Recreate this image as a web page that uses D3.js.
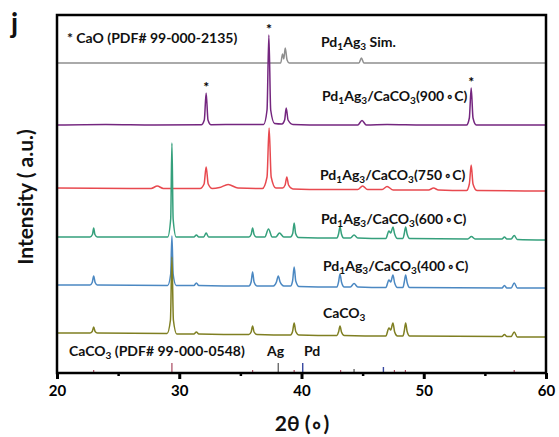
<!DOCTYPE html>
<html><head><meta charset="utf-8">
<script src="https://cdn.jsdelivr.net/npm/d3@7"></script>
<style>body{margin:0;background:#fff} text{font-family:Lato,"Open Sans",sans-serif;font-weight:700}</style>
</head><body><svg id="c" width="559" height="437"></svg>
<script>
// ---- data (2θ in degrees, intensity in a.u. relative to each pattern's baseline) ----
const seriesNames = ["Pd_1Ag_3 Sim.", "Pd_1Ag_3/CaCO_3(900∘C)", "Pd_1Ag_3/CaCO_3(750∘C)", "Pd_1Ag_3/CaCO_3(600∘C)", "Pd_1Ag_3/CaCO_3(400∘C)", "CaCO_3"];
const seriesOffsets = [310, 248, 184, 136, 87, 38];
const patternSim = [[20,0],[38.3,0],[38.45,9],[38.55,4],[38.67,15],[38.82,3],[39,0],[44.7,0],[44.9,5],[45.1,0],[60,0]];
const pattern900 = [[20,0],[24,0.5],[28,0],[31.8,0.3],[32.05,5],[32.2,32],[32.35,5],[32.6,0.3],[35,0.5],[36.9,0.5],[37.18,15],[37.33,90],[37.48,15],[37.8,1.5],[38.4,1],[38.62,5],[38.75,17],[38.9,5],[39.3,0.5],[42,0],[44.6,0],[44.95,4.5],[45.3,0],[47,0.5],[50,0],[53.5,0],[53.73,7],[53.88,37],[54.03,7],[54.3,0],[60,0]];
const pattern750 = [[20,1],[26,0.5],[27.7,0.5],[28.2,3],[28.7,0.5],[31.7,0.5],[32.03,5],[32.2,22],[32.37,5],[32.7,0.5],[33.3,1.5],[34.0,4.5],[34.8,1],[36.8,0.5],[37.18,12],[37.35,61],[37.52,12],[37.9,1],[38.45,1],[38.66,4],[38.8,12],[38.94,4],[39.3,0],[42,-0.5],[44.6,-0.5],[45.0,3],[45.4,-0.5],[46.6,-0.5],[47.0,2.5],[47.5,-1],[50.4,-1],[50.8,1],[51.2,-1],[53.5,-1.5],[53.73,5],[53.88,24],[54.03,5],[54.35,-1.5],[60,-2]];
const pattern600 = [[20,0],[22.7,0],[22.9,2.5],[23.0,9],[23.1,2.5],[23.3,0],[26,0],[29.05,0],[29.3,18],[29.4,94],[29.5,18],[29.75,0],[31.2,0],[31.4,2],[31.6,0],[32.0,0],[32.2,4],[32.4,0],[35.7,0],[35.88,2.5],[36.0,9],[36.12,2.5],[36.3,0],[37.0,0],[37.3,8],[37.6,0],[37.9,0],[38.2,4],[38.55,0],[39.1,0],[39.28,3.5],[39.4,14],[39.52,3.5],[39.75,-0.5],[42.9,-1],[43.03,3],[43.15,10],[43.27,3],[43.45,-1],[44.0,-1],[44.3,2],[44.6,-1],[46.9,-1.5],[47.15,6],[47.3,4],[47.48,10],[47.62,3],[47.85,-1.5],[48.3,-1.5],[48.4,3],[48.52,10],[48.64,3],[48.85,-1.5],[53.6,-2],[53.9,0.5],[54.2,-2],[56.4,-2],[56.6,0],[56.8,-2],[57.15,-2],[57.4,1.5],[57.65,-2.5],[60,-3]];
const pattern400 = [[20,1],[22.7,1],[22.88,3.5],[23.0,10],[23.12,3.5],[23.3,1],[29.05,0.5],[29.3,12],[29.4,50],[29.5,12],[29.75,0.5],[31.2,0.5],[31.4,3],[31.6,0.5],[35.7,0],[35.88,4],[36.0,14],[36.12,4],[36.35,0],[37.7,0],[37.95,4],[38.1,10],[38.25,4],[38.55,0],[39.1,0],[39.27,5],[39.4,19],[39.53,5],[39.8,-0.5],[42.9,-1],[43.03,4],[43.15,12],[43.27,4],[43.5,-1],[44.0,-1],[44.3,2.5],[44.6,-1],[46.9,-1.5],[47.15,6],[47.3,4],[47.48,11],[47.62,3],[47.85,-1.5],[48.3,-1.5],[48.4,3.5],[48.52,11],[48.64,3.5],[48.85,-1.5],[56.4,-2],[56.6,0.5],[56.8,-2],[57.15,-2],[57.4,3],[57.65,-2],[60,-2]];
const patternCaCO3 = [[20,2],[22.7,2],[22.88,3.5],[23.0,8],[23.12,3.5],[23.3,2],[29.0,1.5],[29.28,15],[29.4,78],[29.52,15],[29.8,1],[31.2,1],[31.4,3],[31.6,1],[35.7,0.5],[35.88,3],[36.0,9],[36.12,3],[36.35,0.5],[39.1,0],[39.27,3.5],[39.4,12],[39.53,3.5],[39.8,0],[42.9,-0.5],[43.03,3],[43.15,9],[43.27,3],[43.5,-0.5],[46.9,-1],[47.15,7],[47.3,5],[47.48,12],[47.62,3],[47.85,-1],[48.3,-1],[48.4,3.5],[48.52,12],[48.64,3.5],[48.85,-1],[56.4,-1.5],[56.6,0.5],[56.8,-1.5],[57.15,-1.5],[57.4,3],[57.65,-2],[60,-2]];
const caoStarPeaks = [32.2, 37.33, 53.88];
const caco3Sticks = [23.0, 29.4, 36.0, 39.4, 43.2, 47.6, 48.5, 57.4];
const caco3StickInt = [30, 100, 30, 30, 30, 30, 30, 30];
const agSticks = [38.1, 44.3];
const agStickInt = [100, 40];
const pdSticks = [40.1, 46.7];
const pdStickInt = [100, 60];
const xTicks = [20, 30, 40, 50, 60];
const xMinorTicks = [25, 35, 45, 55];

// ---- drawing ----
const patterns = [patternSim, pattern900, pattern750, pattern600, pattern400, patternCaCO3];
const colors = ["#8e8e8e", "#74267f", "#e8494f", "#35a07c", "#4b88c2", "#7f7f22"];
const svg = d3.select("#c");
const L = 57, R = 546, T = 15, B = 373;
const x = d3.scaleLinear().domain([20, 60]).range([L, R]);
const y = d3.scaleLinear().domain([0, 358]).range([B, T]);
const stickY = d3.scaleLinear().domain([0, 100]).range([B, B - 10]);

function richText(sel, str, fs) {
  // "_c" => subscript c ; "∘" drawn a little smaller
  const parts = [];
  let buf = "";
  for (let i = 0; i < str.length; i++) {
    if (str[i] === "_") { if (buf) parts.push([buf, false]); buf = ""; parts.push([str[i + 1], true]); i++; }
    else buf += str[i];
  }
  if (buf) parts.push([buf, false]);
  let shifted = false;
  parts.forEach(([t, sub]) => {
    if (!sub && t.includes("∘")) {
      const [a, b] = t.split("∘");
      const t1 = sel.append("tspan").text(a);
      if (shifted) { t1.attr("dy", -3); shifted = false; }
      sel.append("tspan").attr("font-size", fs * 0.85).attr("dx", 2).text("∘");
      sel.append("tspan").text(b);
      return;
    }
    const ts = sel.append("tspan").text(t);
    if (sub && !shifted) { ts.attr("dy", 3).attr("font-size", fs * 0.72); shifted = true; }
    else if (sub) { ts.attr("font-size", fs * 0.72); }
    else if (shifted) { ts.attr("dy", -3); shifted = false; }
  });
}

// patterns
patterns.forEach((p, i) => {
  const line = d3.line().x(d => x(d[0])).y(d => y(d[1] + seriesOffsets[i])).curve(d3.curveMonotoneX);
  svg.append("path").datum(p).attr("d", line).attr("fill", "none")
    .attr("stroke", colors[i]).attr("stroke-width", 1.5).attr("stroke-linejoin", "round");
});

// reference sticks
function sticks(pos, inten, col, w) {
  svg.append("g").selectAll("line").data(pos).join("line")
    .attr("x1", d => x(d)).attr("x2", d => x(d))
    .attr("y1", B).attr("y2", (d, i) => stickY(inten[i]))
    .attr("stroke", col).attr("stroke-width", w);
}
sticks(caco3Sticks, caco3StickInt, "#a8485e", 1.2);
sticks(agSticks, agStickInt, "#6b6b6b", 1.4);
sticks(pdSticks, pdStickInt, "#3848a0", 1.4);

// stars on CaO peaks
svg.append("g").selectAll("text").data(caoStarPeaks).join("text")
  .attr("x", d => x(d)).attr("y", d => {
    const pt = pattern900.find(p => p[0] === d);
    return y(pt[1] + seriesOffsets[1]) - 1;
  })
  .attr("text-anchor", "middle").attr("font-size", 14).text("*");

// series labels
const labelPos = [[321, 47], [322, 101], [320, 180], [321, 224], [323, 271], [323, 318]];
seriesNames.forEach((n, i) => {
  const t = svg.append("text").attr("x", labelPos[i][0]).attr("y", labelPos[i][1]).attr("font-size", 14).attr("fill", "#111");
  richText(t, n, 14);
});
svg.append("text").attr("x", 67).attr("y", 43).attr("font-size", 14).attr("fill", "#111").text("* CaO (PDF# 99-000-2135)");
const refLbl = svg.append("text").attr("x", 69).attr("y", 356).attr("font-size", 14).attr("fill", "#111");
richText(refLbl, "CaCO_3 (PDF# 99-000-0548)", 14);
svg.append("text").attr("x", 267).attr("y", 356).attr("font-size", 14).attr("fill", "#111").text("Ag");
svg.append("text").attr("x", 304).attr("y", 356).attr("font-size", 14).attr("fill", "#111").text("Pd");

// axes
const ax = svg.append("g").attr("transform", `translate(0,${B})`)
  .call(d3.axisBottom(x).tickValues(xTicks).tickSize(6).tickPadding(6).tickFormat(d3.format("d")));
ax.select(".domain").remove();
ax.selectAll(".tick line").attr("stroke", "#000").attr("stroke-width", 3);
ax.selectAll(".tick text").attr("font-size", 15).attr("fill", "#000").style("font-family", "Lato").style("font-weight", 700);
const axm = svg.append("g").attr("transform", `translate(0,${B})`)
  .call(d3.axisBottom(x).tickValues(xMinorTicks).tickSize(3).tickFormat(""));
axm.select(".domain").remove();
axm.selectAll(".tick line").attr("stroke", "#000").attr("stroke-width", 2.5);

// frame
svg.append("rect").attr("x", L).attr("y", T).attr("width", R - L).attr("height", B - T)
  .attr("fill", "none").attr("stroke", "#000").attr("stroke-width", 2.5);

// axis titles
svg.append("text").attr("x", 302).attr("y", 431).attr("text-anchor", "middle").attr("font-size", 21).attr("fill", "#111").text("2θ (∘)");
svg.append("text").attr("transform", "translate(33,197) rotate(-90)").attr("text-anchor", "middle")
  .attr("font-size", 21).attr("fill", "#111").text("Intensity ( a.u.)");
svg.append("text").attr("x", 11).attr("y", 33).attr("font-size", 28).attr("font-weight", 900).attr("fill", "#111").text("j");
</script></body></html>
